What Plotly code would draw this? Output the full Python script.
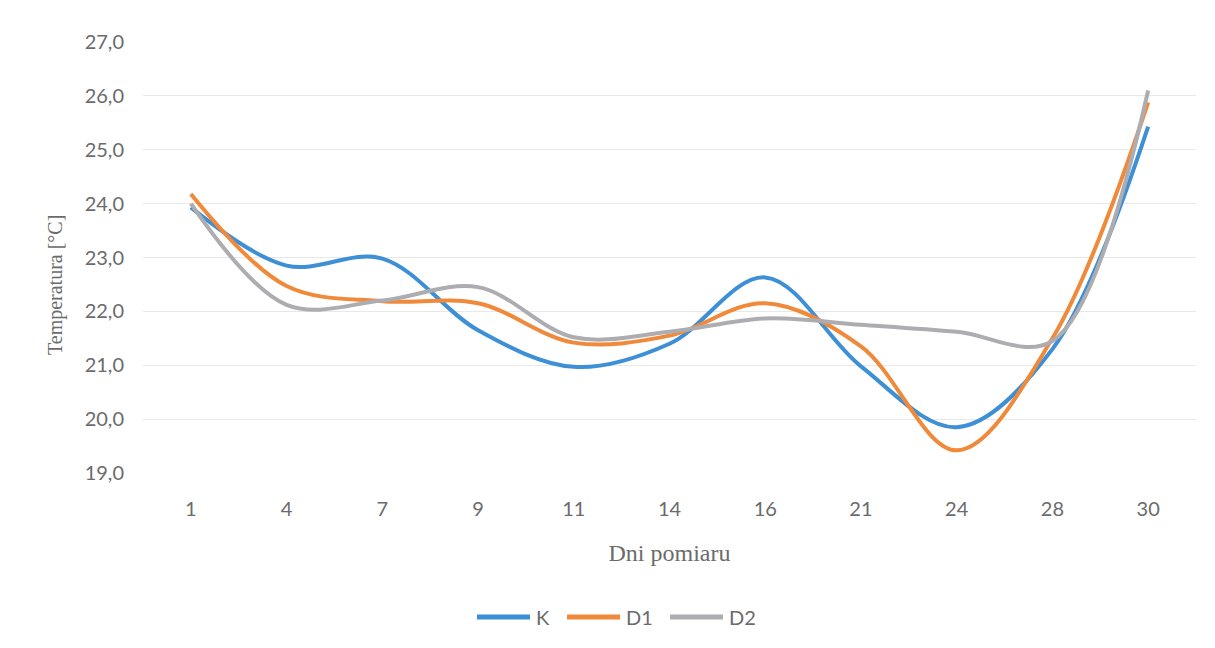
import plotly.graph_objects as go

# dni pomiaru (kategorie na osi x)
days = ['1', '4', '7', '9', '11', '14', '16', '21', '24', '28', '30']

# temperatura [°C]
temp_k = [23.93, 22.85, 22.98, 21.65, 20.97, 21.40, 22.63, 20.98, 19.85, 21.30, 25.43]
temp_d1 = [24.18, 22.47, 22.19, 22.15, 21.42, 21.55, 22.15, 21.35, 19.42, 21.50, 25.88]
temp_d2 = [24.00, 22.12, 22.20, 22.45, 21.52, 21.62, 21.87, 21.75, 21.62, 21.45, 26.10]

y_ticks = [19, 20, 21, 22, 23, 24, 25, 26, 27]
y_labels = ['19,0', '20,0', '21,0', '22,0', '23,0', '24,0', '25,0', '26,0', '27,0']

series = [
    ('K', temp_k, '#3d8fd6'),
    ('D1', temp_d1, '#f08a3a'),
    ('D2', temp_d2, '#adadb1'),
]

txt_col = '#6b6b6b'
axis_font = dict(family='Lato, Noto Sans, sans-serif', size=20, color=txt_col)

fig = go.Figure()
for name, vals, col in series:
    fig.add_trace(go.Scatter(x=days, y=vals, name=name, mode='lines', showlegend=False,
                             line=dict(color=col, width=4, shape='spline', smoothing=1.0)))

# legenda rysowana recznie (dluzsze odcinki linii jak w Excelu)
leg_x0, leg_pitch, leg_len, leg_y = 0.3172, [0.0, 0.0855, 0.1833], 0.0503, -0.334
for (name, vals, col), dx in zip(series, leg_pitch):
    x0 = leg_x0 + dx
    fig.add_shape(type='line', xref='paper', yref='paper', x0=x0, x1=x0 + leg_len,
                  y0=leg_y, y1=leg_y, line=dict(color=col, width=5))
    fig.add_annotation(xref='paper', yref='paper', x=x0 + leg_len + 0.004, y=leg_y,
                       text=name, showarrow=False, xanchor='left', yanchor='middle',
                       font=axis_font)

fig.add_annotation(xref='paper', yref='paper', x=-0.0836, y=0.436, text='Temperatura [°C]',
                   textangle=-90, showarrow=False, xanchor='center', yanchor='middle',
                   font=dict(family='Liberation Serif, serif', size=20, color=txt_col))

# page body has an 8px margin, so margins are trimmed by 8 on top/left
fig.update_layout(
    width=1215, height=648,
    margin=dict(l=135, r=27, t=34, b=183, autoexpand=False),
    paper_bgcolor='white', plot_bgcolor='white',
    xaxis=dict(type='category', range=[-0.5, 10.5], showgrid=False, zeroline=False,
               showline=False, ticks='', tickfont=axis_font, ticklabelstandoff=22,
               title=dict(text='Dni pomiaru', standoff=25,
                          font=dict(family='Liberation Serif, serif', size=24, color=txt_col))),
    yaxis=dict(range=[19, 27], tickvals=y_ticks, ticktext=y_labels, showgrid=True,
               gridcolor='#e8e8e8', gridwidth=1, zeroline=False, showline=False,
               ticks='', tickfont=axis_font, ticklabelstandoff=18),
)

fig.write_html('out.html')
